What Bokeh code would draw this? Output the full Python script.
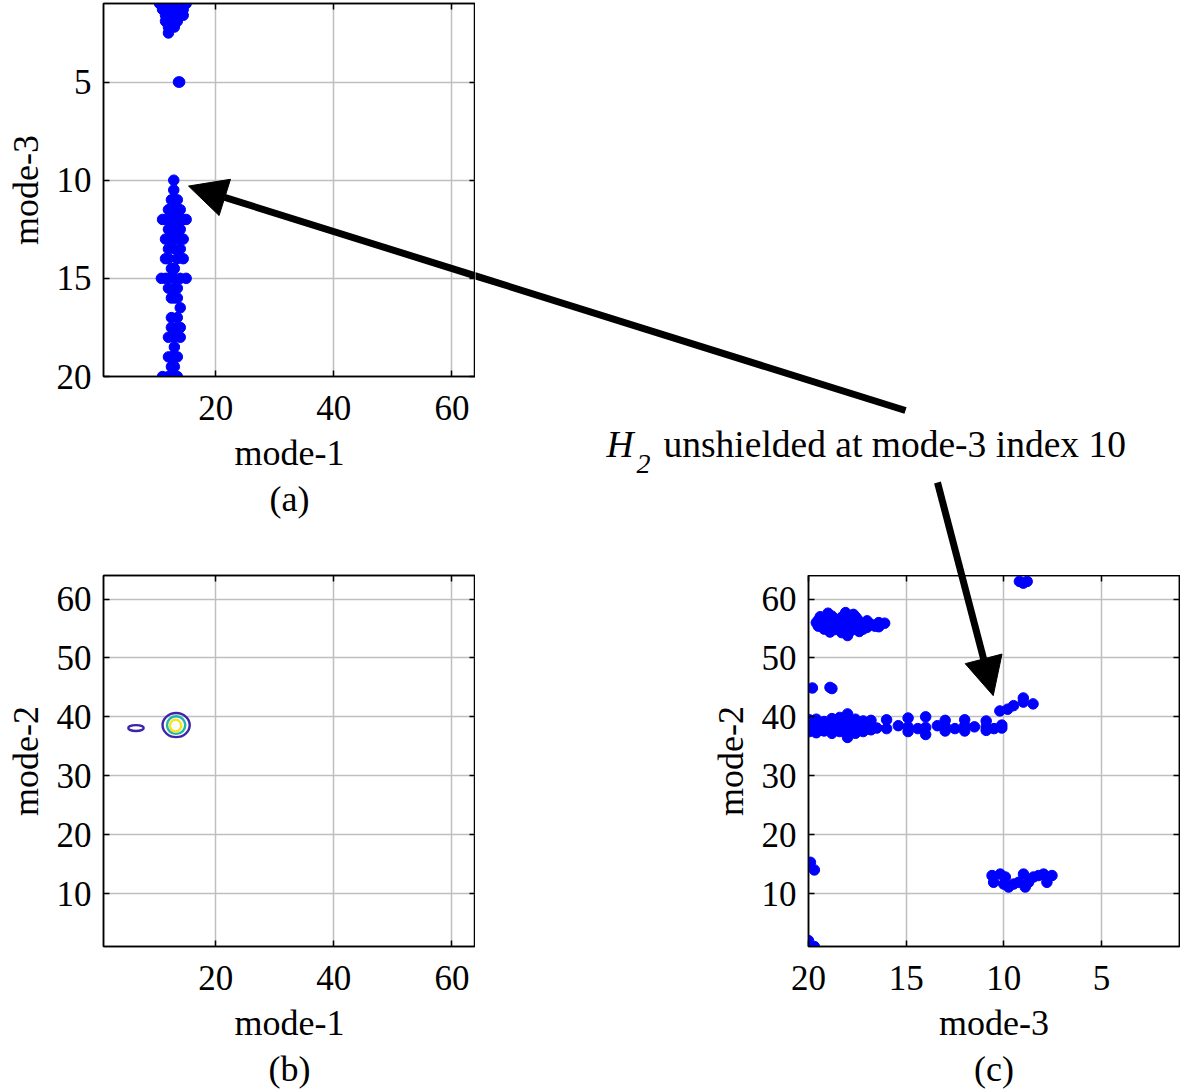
from bokeh.plotting import figure
from bokeh.models import (Range1d, LinearAxis, FixedTicker, Arrow, NormalHead,
                          Label, Title, CustomJSTickFormatter)
from bokeh.layouts import column, row
from bokeh.embed import file_html
from bokeh.resources import INLINE

# ---------------- data ----------------
# panel (a): mode-1 (x) vs mode-3 (y)
a_mode1 = [10.5, 11, 11.5, 12, 12.5, 13, 13.5, 14, 14.5, 15,
           11, 12, 13, 14, 14.5,
           11.5, 12.5, 13.5, 14.5,
           11.5, 12.5, 13.5,
           12, 13,
           12,
           13.7, 13.9,
           12.9, 12.9,
           12.5, 13, 13.5,
           12, 12.5, 13, 13.5, 14,
           11, 11.5, 12, 13, 14, 14.5, 15,
           12, 12.5, 13.5, 14,
           11.5, 12.5, 13, 14, 14.5,
           12, 13, 14,
           11.5, 12, 13.5, 14.5,
           12.5, 13,
           10.8, 11.5, 12, 13, 14, 15,
           12, 13, 13.5,
           12.5, 13, 13.5,
           14,
           12.5, 13.5,
           12.5, 13.5, 14,
           12, 13, 14,
           13,
           12, 12.5, 13.5,
           12.5, 13,
           11, 12, 13, 13.5]
a_mode3 = [1.0, 1.0, 1.0, 1.0, 1.0, 1.0, 1.0, 1.0, 1.0, 1.0,
           1.3, 1.3, 1.3, 1.3, 1.3,
           1.6, 1.6, 1.6, 1.6,
           1.9, 1.9, 1.9,
           2.2, 2.2,
           2.5,
           5.0, 5.0,
           10.0, 10.5,
           11.0, 11.0, 11.0,
           11.5, 11.5, 11.5, 11.5, 11.5,
           12.0, 12.0, 12.0, 12.0, 12.0, 12.0, 12.0,
           12.5, 12.5, 12.5, 12.5,
           13.0, 13.0, 13.0, 13.0, 13.0,
           13.5, 13.5, 13.5,
           14.0, 14.0, 14.0, 14.0,
           14.5, 14.5,
           15.0, 15.0, 15.0, 15.0, 15.0, 15.0,
           15.5, 15.5, 15.5,
           16.0, 16.0, 16.0,
           16.5,
           17.0, 17.0,
           17.5, 17.5, 17.5,
           18.0, 18.0, 18.0,
           18.5,
           19.0, 19.0, 19.0,
           19.5, 19.5,
           20.0, 20.0, 20.0, 20.0]

# panel (b): contour levels of the mode-1 x mode-2 density
b_center_mode1 = [13.3, 13.3, 13.2, 6.5]
b_center_mode2 = [38.6, 38.6, 38.5, 38.1]
b_width = [4.6, 3.1, 1.9, 2.6]
b_height = [4.1, 3.0, 2.0, 1.0]
b_level_color = ["#3E26A8", "#1FB5AC", "#F5E61C", "#3E26A8"]

# panel (c): mode-3 (x) vs mode-2 (y)
c_mode3 = [19.0, 18.1, 17.7,
           19.4, 18.8, 18.3, 17.6,
           19.5, 19.1, 18.6, 18.0, 17.5, 17.0,
           19.6, 19.3, 18.9, 18.4, 17.9, 17.4, 16.9, 16.4,
           19.5, 19.0, 18.5, 18.0, 17.5, 17.0, 16.6,
           19.2, 18.7, 18.2, 17.8, 17.2,
           18.9, 18.3, 17.4,
           18.0, 16.1, 16.4, 16.8,
           19.8, 18.9, 18.8,
           19.95, 19.95, 19.95, 19.95,
           19.6, 19.6, 19.6, 19.6,
           19.2, 19.2, 19.2,
           18.8, 18.8, 18.8, 18.8,
           18.4, 18.4, 18.4, 18.4,
           18.0, 18.0, 18.0, 18.0, 18.0,
           17.6, 17.6, 17.6, 17.6,
           17.2, 17.2, 17.2,
           16.8, 16.8, 16.8,
           16.5,
           16.0, 16.0,
           15.4,
           14.9, 14.9, 14.9,
           14.4,
           14.0, 14.0, 14.0,
           13.4,
           13.0, 13.0, 13.0,
           12.5,
           12.0, 12.0, 12.0,
           11.5,
           10.9, 10.9, 10.9,
           10.5,
           10.1, 10.1,
           10.2, 9.8, 9.5, 9.0, 9.0, 8.5,
           9.0, 8.8, 9.2,
           10.6, 10.52, 10.18, 9.92, 10.0, 9.75, 9.5, 9.24,
           8.99, 8.9, 8.73, 8.48, 8.22, 7.96, 7.79, 7.53,
           19.9, 19.7, 20.0, 19.7]
c_mode2 = [57.6, 57.7, 57.4,
           57.0, 57.1, 56.9, 57.0,
           56.4, 56.6, 56.5, 56.4, 56.6, 56.3,
           56.0, 55.9, 56.0, 55.8, 56.0, 55.8, 55.9, 56.0,
           55.4, 55.5, 55.3, 55.5, 55.4, 55.2, 55.4,
           54.9, 54.8, 55.0, 54.7, 54.9,
           54.4, 54.3, 54.5,
           53.8, 55.9, 55.3, 55.7,
           44.9, 45.0, 44.8,
           37.5, 38.2, 38.9, 39.5,
           37.3, 38.0, 38.8, 39.6,
           37.6, 38.4, 39.2,
           37.2, 38.0, 38.8, 39.7,
           37.5, 38.3, 39.1, 39.9,
           36.5, 37.4, 38.2, 39.0, 40.5,
           37.2, 38.0, 38.8, 39.6,
           37.5, 38.4, 39.3,
           37.8, 38.6, 39.4,
           38.1,
           38.0, 39.5,
           38.5,
           37.5, 38.3, 39.8,
           38.0,
           37.0, 38.2, 40.0,
           38.5,
           37.6, 38.4, 39.4,
           38.0,
           37.6, 38.5, 39.5,
           38.3,
           37.7, 38.3, 39.3,
           38.0,
           38.1, 38.6,
           41.0, 41.3, 41.9, 43.2, 42.5, 42.2,
           62.7, 63.0, 63.0,
           13.05, 11.9, 13.3, 12.8, 11.6, 11.1, 11.6, 11.9,
           13.3, 11.1, 11.9, 12.8, 13.05, 13.3, 11.9, 13.05,
           15.3, 14.0, 2.0, 1.0]

a_xticks = [20, 40, 60]
a_yticks = [5, 10, 15, 20]
b_xticks = [20, 40, 60]
b_yticks = [10, 20, 30, 40, 50, 60]
c_xticks = [20, 15, 10, 5]
c_yticks = [10, 20, 30, 40, 50, 60]

annotation_sym = "H"
annotation_sub = "2"
annotation_text = "unshielded at mode-3 index 10"
arrow1_tip = (15.4, 10.3)    # panel (a) data: mode-1, mode-3
arrow2_tip = (10.54, 43.6)   # panel (c) data: mode-3, mode-2

# ---------------- layout (page pixels) ----------------
SERIF = "Liberation Serif"
BLUE = "#0000FF"
LEFT_W, RIGHT_W = 475, 705
A_H, B_H = 530, 560
O_H, C_H = 575, 515
A_FRAME = (103, 475, 3, 376)        # left, right, top, bottom
B_FRAME = (103, 475, 575, 946)
C_FRAME = (808, 1179, 575, 946)


def a_data(px, py):
    l, r, t, b = A_FRAME
    return 1 + (px - l) * 63.0 / (r - l), 1 + (py - t) * 19.0 / (b - t)


def a_page(x, y):
    l, r, t, b = A_FRAME
    return l + (x - 1) * (r - l) / 63.0, t + (y - 1) * (b - t) / 19.0


def c_data(px, py):
    l, r, t, b = C_FRAME
    return 20 - (px - l) * 19.0 / (r - l), 1 + (b - py) * 63.0 / (b - t)


def c_page(x, y):
    l, r, t, b = C_FRAME
    return l + (20 - x) * (r - l) / 19.0, b - (y - 1) * (b - t) / 63.0


def make(width, height, frame, x0, y0, xr, yr):
    l, r, t, b = frame
    p = figure(width=width, height=height, x_range=xr, y_range=yr,
               output_backend="svg", toolbar_location=None,
               min_border_left=l - x0, min_border_right=x0 + width - r,
               min_border_top=t - y0, min_border_bottom=y0 + height - b)
    p.frame_align = False
    p.outline_line_color = "black"
    p.outline_line_width = 1.5
    p.background_fill_color = "white"
    p.border_fill_color = "white"
    return p


def style(p, xticks, yticks, xlabel, ylabel, letter):
    for ax, ticks, lab, so in ((p.xaxis[0], xticks, xlabel, 19), (p.yaxis[0], yticks, ylabel, 12)):
        ax.ticker = FixedTicker(ticks=ticks)
        ax.axis_label = lab
        ax.axis_label_text_font = SERIF
        ax.axis_label_text_font_size = "36px"
        ax.axis_label_text_font_style = "normal"
        ax.axis_label_text_color = "black"
        ax.axis_label_standoff = 10 if so == 19 else 8
        ax.major_label_text_font = SERIF
        ax.major_label_text_font_size = "35px"
        ax.major_label_text_color = "black"
        ax.major_label_standoff = so
        ax.major_tick_in = 6
        ax.major_tick_out = 0
        ax.major_tick_line_width = 1.5
        ax.minor_tick_line_color = None
        ax.axis_line_width = 1.5
        ax.axis_line_color = "black"
    for ticks, place in ((xticks, "above"), (yticks, "right")):
        ax = LinearAxis(ticker=FixedTicker(ticks=ticks),
                        formatter=CustomJSTickFormatter(code="return ''"),
                        major_label_text_font_size="0px", major_label_standoff=0,
                        major_tick_in=6, major_tick_out=0, major_tick_line_width=1.5,
                        minor_tick_line_color=None, axis_line_width=1.5)
        p.add_layout(ax, place)
    p.xgrid.ticker = FixedTicker(ticks=xticks)
    p.ygrid.ticker = FixedTicker(ticks=yticks)
    for g in (p.xgrid, p.ygrid):
        g.grid_line_color = "#BFBFBF"
        g.grid_line_width = 1.5
    p.add_layout(Title(text=letter, align="center", text_font=SERIF,
                       text_font_size="36px", text_font_style="normal",
                       text_color="black", standoff=2), "below")


def head():
    return NormalHead(size=38, fill_color="black", line_color="black", line_width=1)


ARROW1_TAIL = (905, 410)
ARROW2_TAIL = (937, 482)

# ---------------- panel (a) ----------------
pa = make(LEFT_W, A_H, A_FRAME, 0, 0, Range1d(1, 64), Range1d(20, 1))
style(pa, a_xticks, a_yticks, "mode-1", "mode-3", "(a)")
pa.scatter(a_mode1, a_mode3, size=10.5, fill_color=BLUE, line_color=BLUE)
t1 = a_data(*ARROW1_TAIL)
pa.add_layout(Arrow(x_start=t1[0], y_start=t1[1], x_end=arrow1_tip[0], y_end=arrow1_tip[1],
                    line_width=7, line_color="black", end=head()))

# ---------------- panel (b) ----------------
pb = make(LEFT_W, B_H, B_FRAME, 0, A_H, Range1d(1, 64), Range1d(1, 64))
style(pb, b_xticks, b_yticks, "mode-1", "mode-2", "(b)")
pb.ellipse(x=b_center_mode1, y=b_center_mode2, width=b_width, height=b_height,
           fill_color=None, line_color=b_level_color, line_width=2.4)

# ---------------- overlay (annotation area, page-pixel coordinates) ----------------
po = figure(width=RIGHT_W, height=O_H, x_range=Range1d(LEFT_W, LEFT_W + RIGHT_W),
            y_range=Range1d(O_H, 0), output_backend="svg", toolbar_location=None,
            x_axis_location=None, y_axis_location=None, min_border=0)
po.frame_align = False
po.outline_line_color = None
po.background_fill_color = "white"
po.border_fill_color = "white"
po.xgrid.visible = False
po.ygrid.visible = False
TXT_BASE = 444
po.add_layout(Label(x=606, y=TXT_BASE, text=annotation_sym, text_font=SERIF,
                    text_font_style="italic", text_font_size="37.5px",
                    text_baseline="alphabetic", text_align="left", text_color="black"))
po.add_layout(Label(x=636, y=TXT_BASE + 19, text=annotation_sub, text_font=SERIF,
                    text_font_style="italic", text_font_size="28px",
                    text_baseline="alphabetic", text_align="left", text_color="black"))
po.add_layout(Label(x=663, y=TXT_BASE, text=annotation_text, text_font=SERIF,
                    text_font_size="37.5px", text_baseline="alphabetic",
                    text_align="left", text_color="black"))
tip1 = a_page(*arrow1_tip)
po.add_layout(Arrow(x_start=ARROW1_TAIL[0], y_start=ARROW1_TAIL[1], x_end=tip1[0], y_end=tip1[1],
                    line_width=7, line_color="black", end=head()))
tip2 = c_page(*arrow2_tip)
po.add_layout(Arrow(x_start=ARROW2_TAIL[0], y_start=ARROW2_TAIL[1], x_end=tip2[0], y_end=tip2[1],
                    line_width=7, line_color="black", end=head()))

# ---------------- panel (c) ----------------
pc = make(RIGHT_W, C_H, C_FRAME, LEFT_W, O_H, Range1d(20, 1), Range1d(1, 64))
style(pc, c_xticks, c_yticks, "mode-3", "mode-2", "(c)")
pc.scatter(c_mode3, c_mode2, size=10.5, fill_color=BLUE, line_color=BLUE)
t2 = c_data(*ARROW2_TAIL)
pc.add_layout(Arrow(x_start=t2[0], y_start=t2[1], x_end=arrow2_tip[0], y_end=arrow2_tip[1],
                    line_width=7, line_color="black", end=head()))

layout = row(column(pa, pb), column(po, pc))
open("out.html", "w").write(file_html(layout, INLINE))
